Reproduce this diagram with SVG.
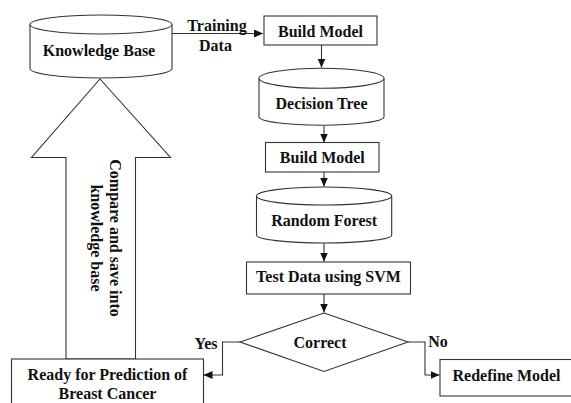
<svg xmlns="http://www.w3.org/2000/svg" width="571" height="403" viewBox="0 0 571 403">
<style>
.s{fill:#fff;stroke:#333;stroke-width:1.1}
.t{font-family:"Liberation Serif","Times New Roman",serif;font-weight:bold;font-size:16px;fill:#111;text-anchor:middle}
.c{fill:none;stroke:#333;stroke-width:1.1}
</style>
<defs>
<marker id="ah" markerUnits="userSpaceOnUse" markerWidth="10" markerHeight="9" refX="9" refY="4" orient="auto">
<path d="M0,0 L9,4 L0,8 z" fill="#111"/>
</marker>
</defs>
<rect width="571" height="403" fill="#fff"/>
<g id="connectors">
<line class="c" x1="172" y1="33.5" x2="263" y2="33.5" marker-end="url(#ah)"/>
<line class="c" x1="321.5" y1="45" x2="321.5" y2="67.5" marker-end="url(#ah)"/>
<line class="c" x1="324" y1="126" x2="324" y2="142.5" marker-end="url(#ah)"/>
<line class="c" x1="324" y1="172" x2="324" y2="186.5" marker-end="url(#ah)"/>
<line class="c" x1="324" y1="243" x2="324" y2="261.5" marker-end="url(#ah)"/>
<line class="c" x1="324" y1="294" x2="324" y2="312.5" marker-end="url(#ah)"/>
<polyline class="c" points="408,342 425,342 425,375 439.5,375" marker-end="url(#ah)"/>
<polyline class="c" points="240,342 222.5,342 222.5,375 203.5,375" marker-end="url(#ah)"/>
<text class="t" x="217" y="30.5">Training</text>
<text class="t" x="215.5" y="50.5">Data</text>
<text class="t" x="206" y="348.5">Yes</text>
<text class="t" x="438" y="347">No</text>
</g>
<g id="big-arrow">
<path class="s" d="M100,79 L170.5,157.5 L135.5,157.5 L135.5,359 L66,359 L66,157.5 L31.5,157.5 Z"/>
<g transform="rotate(90 100 238)">
<text class="t" x="100" y="228.5">Compare and save into</text>
<text class="t" x="100" y="247.5">knowledge base</text>
</g>
</g>
<g id="knowledge-base">
<path class="s" d="M30,24.5 L30,68.5 A71,9.5 0 0 0 172,68.5 L172,24.5"/>
<ellipse class="s" cx="101" cy="24.5" rx="71" ry="9.5"/>
<text class="t" x="99" y="55.5">Knowledge Base</text>
</g>
<g id="build-model-1">
<rect class="s" x="264" y="16" width="113" height="29"/>
<text class="t" x="320.5" y="36.5">Build Model</text>
</g>
<g id="decision-tree">
<path class="s" d="M259,78.3 L259,116.7 A62.5,8.5 0 0 0 384,116.7 L384,78.3"/>
<ellipse class="s" cx="321.5" cy="78.3" rx="62.5" ry="10"/>
<text class="t" x="321.5" y="109">Decision Tree</text>
</g>
<g id="build-model-2">
<rect class="s" x="265.5" y="142.5" width="113.5" height="29.5"/>
<text class="t" x="322.3" y="163">Build Model</text>
</g>
<g id="random-forest">
<path class="s" d="M256.5,196 L256.5,235 A67.6,8 0 0 0 391.7,235 L391.7,196"/>
<ellipse class="s" cx="324.1" cy="196" rx="67.6" ry="9"/>
<text class="t" x="324.1" y="225.5">Random Forest</text>
</g>
<g id="test-svm">
<rect class="s" x="246.5" y="262" width="164" height="32"/>
<text class="t" x="328.5" y="282">Test Data using SVM</text>
</g>
<g id="correct">
<polygon class="s" points="324,313 408,342 324,371.5 240,342"/>
<text class="t" x="320" y="348">Correct</text>
</g>
<g id="ready">
<rect class="s" x="11.5" y="359" width="192" height="50"/>
<text class="t" x="107.5" y="380">Ready for Prediction of</text>
<text class="t" x="107.5" y="398.5">Breast Cancer</text>
</g>
<g id="redefine">
<rect class="s" x="440" y="359.5" width="132" height="36.5"/>
<text class="t" x="506.5" y="380.5">Redefine Model</text>
</g>
</svg>
